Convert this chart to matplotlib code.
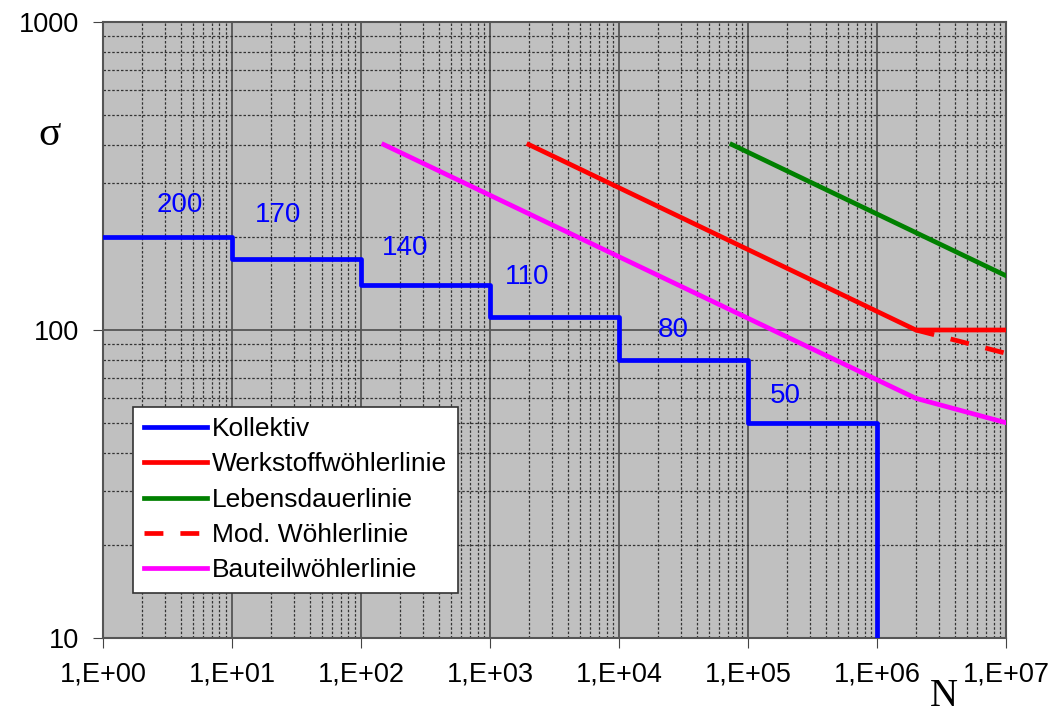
import numpy as np
import matplotlib.pyplot as plt
from matplotlib.ticker import FixedLocator, FuncFormatter, LogLocator, NullFormatter

# Kollektiv (stepped load spectrum)
koll_n = [1, 10, 10, 100, 100, 1e3, 1e3, 1e4, 1e4, 1e5, 1e5, 1e6, 1e6]
koll_s = [200, 200, 170, 170, 140, 140, 110, 110, 80, 80, 50, 50, 10]
koll_labels = ["200", "170", "140", "110", "80", "50"]
koll_label_n = [3.95, 22.7, 219, 1936, 26200, 193600]
koll_label_s = [254, 236, 185, 149, 100, 61]

werk_n = [2e3, 2e6, 1e7]
werk_s = [400, 100, 100]

leben_n = [7.5e4, 1e7]
leben_s = [400, 150]

mod_n = [2e6, 1e7]
mod_s = [100, 84]

bauteil_n = [150, 2e6, 1e7]
bauteil_s = [400, 60, 50]

plt.rcParams['font.family'] = ['Liberation Sans', 'DejaVu Sans']

fig = plt.figure(figsize=(10.64, 7.18), dpi=100)
ax = fig.add_axes([0.0968, 0.1114, 0.8487, 0.858])
ax.set_facecolor('#c0c0c0')

lw = 3.4
ax.plot(koll_n, koll_s, color='#0000ff', lw=lw, label='Kollektiv', zorder=3)
ax.plot(werk_n, werk_s, color='#ff0000', lw=lw, label='Werkstoffwöhlerlinie', zorder=3)
ax.plot(leben_n, leben_s, color='#008000', lw=lw, label='Lebensdauerlinie', zorder=3)
ax.plot(mod_n, mod_s, color='#ff0000', lw=lw, ls=(0, (4, 3.6)), label='Mod. Wöhlerlinie', zorder=3)
ax.plot(bauteil_n, bauteil_s, color='#ff00ff', lw=lw, label='Bauteilwöhlerlinie', zorder=3)

for t, n, s in zip(koll_labels, koll_label_n, koll_label_s):
    ax.text(n, s, t, color='#0000ff', fontsize=20, ha='center', va='center')

ax.set_xscale('log')
ax.set_yscale('log')
ax.set_xlim(1, 1e7)
ax.set_ylim(10, 1000)

ax.xaxis.set_major_locator(FixedLocator([10.0**i for i in range(8)]))
ax.xaxis.set_major_formatter(FuncFormatter(lambda v, p: "1,E+%02d" % round(np.log10(v))))
ax.yaxis.set_major_locator(FixedLocator([10, 100, 1000]))
ax.yaxis.set_major_formatter(FuncFormatter(lambda v, p: "%d" % v))
for a in (ax.xaxis, ax.yaxis):
    a.set_minor_locator(LogLocator(base=10, subs=np.arange(2, 10), numticks=20))
    a.set_minor_formatter(NullFormatter())

ax.grid(which='major', color='#555555', lw=1.3, ls='-', zorder=1)
ax.grid(which='minor', color='#333333', lw=0.9, ls=(0, (2, 1.5)), zorder=1)
ax.set_axisbelow(True)
ax.tick_params(which='major', direction='out', length=7, color='#444444', labelsize=19.5)
ax.tick_params(axis='x', which='major', pad=10)
ax.tick_params(axis='y', which='major', pad=10)
ax.tick_params(which='minor', length=0)
for sp in ax.spines.values():
    sp.set_color('#555555')
    sp.set_linewidth(1.5)

fig.text(50 / 1064, 1 - 135 / 718, 'σ', fontsize=30, family='Liberation Serif', ha='center', va='center')
fig.text(944 / 1064, 1 - 697 / 718, 'N', fontsize=28, family='Liberation Serif', ha='center', va='center')

leg = ax.legend(loc='lower left', bbox_to_anchor=((133 - 103) / 903, (638 - 593) / 616),
                fontsize=19, frameon=True, fancybox=False, framealpha=1, edgecolor='#333333',
                handlelength=2.4, handletextpad=0.2, labelspacing=0.43, borderpad=0.4,
                borderaxespad=0)
leg.get_frame().set_linewidth(1.2)

fig.savefig('out.png', dpi=100, facecolor='white')
